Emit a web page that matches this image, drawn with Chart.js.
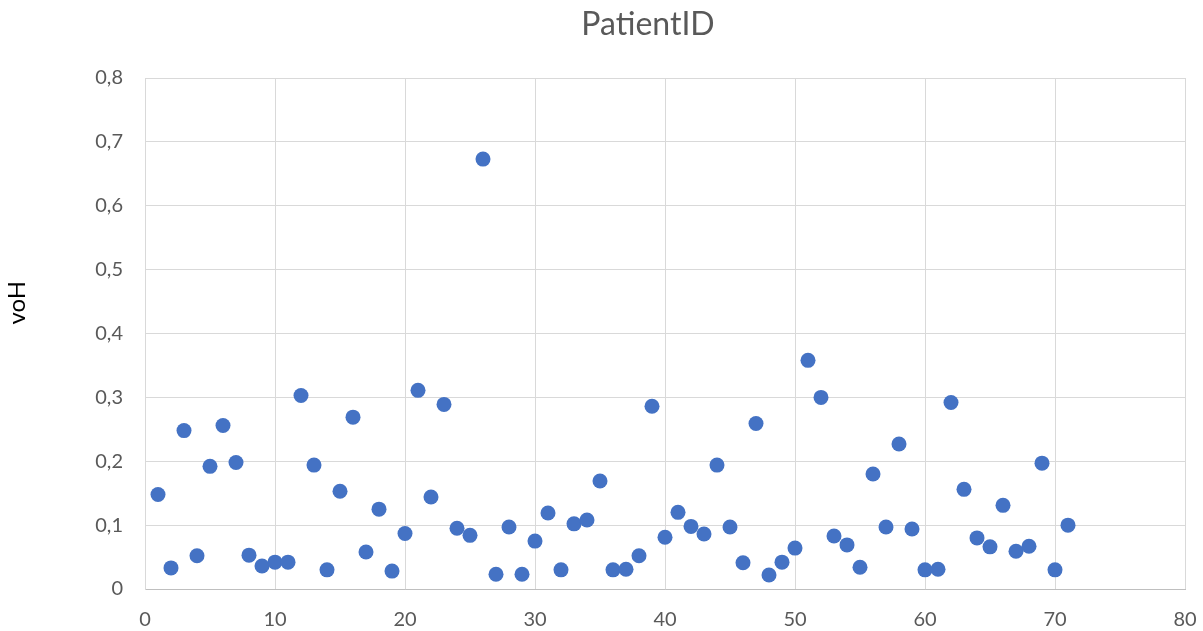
<!DOCTYPE html>
<html>
<head>
    <meta charset="utf-8">
    <title>PatientID</title>
    <script src="https://cdn.jsdelivr.net/npm/chart.js"></script>
    <style>
        body { margin: 0; background: #fff; }
        #wrap { width: 1203px; height: 631px; }
    </style>
</head>
<body>
<div id="wrap">
<canvas id="chartCanvas" width="1203" height="631"></canvas>
</div>
<script>
    // patient ids on the x axis
    var patientIds = [
        1, 2, 3, 4, 5, 6, 7, 8, 9, 10,
        11, 12, 13, 14, 15, 16, 17, 18, 19, 20,
        21, 22, 23, 24, 25, 26, 27, 28, 29, 30,
        31, 32, 33, 34, 35, 36, 37, 38, 39, 40,
        41, 42, 43, 44, 45, 46, 47, 48, 49, 50,
        51, 52, 53, 54, 55, 56, 57, 58, 59, 60,
        61, 62, 63, 64, 65, 66, 67, 68, 69, 70, 71
    ];
    // voH per patient
    var vohValues = [
        0.148, 0.033, 0.248, 0.052, 0.192, 0.256, 0.198, 0.053, 0.036, 0.042,
        0.042, 0.303, 0.194, 0.030, 0.153, 0.269, 0.058, 0.125, 0.028, 0.087,
        0.311, 0.144, 0.289, 0.095, 0.084, 0.673, 0.023, 0.097, 0.023, 0.075,
        0.119, 0.030, 0.102, 0.108, 0.169, 0.030, 0.031, 0.052, 0.286, 0.081,
        0.120, 0.098, 0.086, 0.194, 0.097, 0.041, 0.259, 0.022, 0.042, 0.064,
        0.358, 0.300, 0.083, 0.069, 0.034, 0.180, 0.097, 0.227, 0.094, 0.030,
        0.031, 0.292, 0.156, 0.080, 0.066, 0.131, 0.059, 0.067, 0.197, 0.030, 0.100
    ];
    var xTicks = [0, 10, 20, 30, 40, 50, 60, 70, 80];
    var yTicks = [0, 0.1, 0.2, 0.3, 0.4, 0.5, 0.6, 0.7, 0.8];

    var points = patientIds.map(function(id, i) {
        return { x: id, y: vohValues[i] };
    });

    var textColor = '#595959';
    var fontFamily = 'Lato, "Open Sans", sans-serif';

    // Excel puts the chart title a bit right of the canvas middle
    var shiftTitle = {
        id: 'shiftTitle',
        afterLayout: function(chart) {
            if (chart.titleBlock) chart.titleBlock.left += 111;
        }
    };

    var ctx = document.getElementById('chartCanvas').getContext('2d');
    var chart = new Chart(ctx, {
        type: 'scatter',
        data: {
            datasets: [{
                label: 'voH',
                data: points,
                backgroundColor: '#4472C4',
                borderColor: '#4472C4',
                pointRadius: 7.5,
                pointHoverRadius: 7.5,
                borderWidth: 0
            }]
        },
        plugins: [shiftTitle],
        options: {
            responsive: false,
            animation: false,
            layout: { padding: { left: 0, right: 18, top: 0, bottom: 0 } },
            plugins: {
                legend: { display: false },
                tooltip: { enabled: false },
                title: {
                    display: true,
                    text: 'PatientID',
                    color: textColor,
                    font: { family: fontFamily, size: 32, weight: 'normal' },
                    padding: { top: 5, bottom: 34.6 }
                }
            },
            scales: {
                x: {
                    type: 'linear',
                    min: xTicks[0],
                    max: xTicks[xTicks.length - 1],
                    afterBuildTicks: function(scale) {
                        scale.ticks = xTicks.map(function(v) { return { value: v }; });
                    },
                    afterFit: function(scale) {
                        scale.height = 42;
                        scale.paddingLeft = 0;
                        scale.paddingRight = 0;
                    },
                    grid: { color: '#d9d9d9', drawTicks: false },
                    border: { color: '#bfbfbf', width: 1 },
                    ticks: {
                        color: textColor,
                        padding: 19,
                        font: { family: fontFamily, size: 20 }
                    }
                },
                y: {
                    min: yTicks[0],
                    max: yTicks[yTicks.length - 1],
                    afterBuildTicks: function(scale) {
                        scale.ticks = yTicks.map(function(v) { return { value: v }; });
                    },
                    afterFit: function(scale) { scale.width = 145; },
                    grid: { color: '#d9d9d9', drawTicks: false },
                    border: { color: '#d9d9d9', width: 1 },
                    title: {
                        display: true,
                        // leading spaces lift the label above the axis middle, like the original
                        text: '          voH',
                        color: '#000000',
                        font: { family: fontFamily, size: 24 },
                        padding: { top: 3, bottom: 0 }
                    },
                    ticks: {
                        color: textColor,
                        padding: 22,
                        font: { family: fontFamily, size: 20 },
                        callback: function(value) {
                            return (Math.round(value * 10) / 10).toString().replace('.', ',');
                        }
                    }
                }
            }
        }
    });
</script>
</body>
</html>
